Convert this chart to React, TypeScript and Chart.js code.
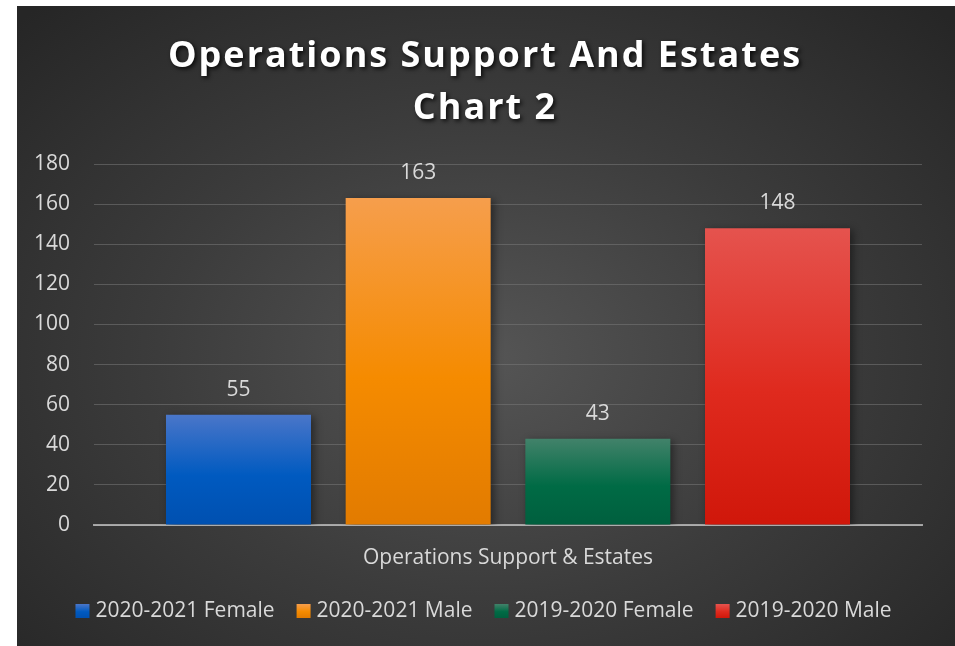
import React, { useEffect, useRef } from "react";
import { Chart, registerables } from "chart.js";

Chart.register(...registerables);

const categories = ["Operations Support & Estates"];
const seriesNames = ["2020-2021 Female", "2020-2021 Male", "2019-2020 Female", "2019-2020 Male"];
const seriesValues = [[55], [163], [43], [148]];
const seriesColors = [
  ["#4a76c9", "#005ac0", "#0050b0"],
  ["#f69e4c", "#f58b00", "#e27b00"],
  ["#42826a", "#006b45", "#005f3e"],
  ["#e5534e", "#df2a1e", "#d0170a"],
];
const titleLines = ["Operations Support And Estates", "Chart 2"];
const yMax = 180;
const yStep = 20;

const FONT = "'Open Sans', 'DejaVu Sans', sans-serif";
const TEXT = "#d9d9d9";

export default function App() {
  const ref = useRef<HTMLCanvasElement | null>(null);

  useEffect(() => {
    const canvas = ref.current;
    if (!canvas) return;

    const titlePlugin = {
      id: "customTitle",
      afterDraw(chart: any) {
        const ctx = chart.ctx;
        ctx.save();
        ctx.font = `bold 36px ${FONT}`;
        ctx.fillStyle = "#ffffff";
        ctx.textAlign = "center";
        ctx.textBaseline = "middle";
        (ctx as any).letterSpacing = "2px";
        ctx.shadowColor = "rgba(0,0,0,0.8)";
        ctx.shadowBlur = 4;
        ctx.shadowOffsetX = 2;
        ctx.shadowOffsetY = 2;
        const cx = chart.width / 2 - 1;
        ctx.fillText(titleLines[0], cx, 51);
        ctx.fillText(titleLines[1], cx, 103);
        ctx.restore();
      },
    };

    const legendPlugin = {
      id: "customLegend",
      afterDraw(chart: any) {
        const ctx = chart.ctx;
        ctx.save();
        ctx.font = `21px ${FONT}`;
        ctx.textBaseline = "middle";
        ctx.textAlign = "left";
        const box = 14;
        const gapBoxText = 6;
        const gapItems = 22;
        const widths = seriesNames.map((n) => box + gapBoxText + ctx.measureText(n).width);
        const total = widths.reduce((a, b) => a + b, 0) + gapItems * (widths.length - 1);
        let x = chart.width / 2 - 2.5 - total / 2;
        const y = 604;
        seriesNames.forEach((n, i) => {
          const g = ctx.createLinearGradient(0, y - box / 2 + 1, 0, y + box / 2 + 1);
          g.addColorStop(0, seriesColors[i][0]);
          g.addColorStop(0.55, seriesColors[i][1]);
          g.addColorStop(1, seriesColors[i][2]);
          ctx.fillStyle = g;
          ctx.fillRect(x, y - box / 2 + 1, box, box);
          ctx.fillStyle = TEXT;
          ctx.fillText(n, x + box + gapBoxText, y + 1);
          x += widths[i] + gapItems;
        });
        ctx.restore();
      },
    };

    const shadowPlugin = {
      id: "barShadow",
      beforeDatasetsDraw(chart: any) {
        const ctx = chart.ctx;
        ctx.save();
        ctx.shadowColor = "rgba(0,0,0,0.45)";
        ctx.shadowBlur = 8;
        ctx.shadowOffsetX = 3;
        ctx.shadowOffsetY = 2;
      },
      afterDatasetsDraw(chart: any) {
        chart.ctx.restore();
      },
    };

    const valueLabels = {
      id: "valueLabels",
      afterDatasetsDraw(chart: any) {
        const ctx = chart.ctx;
        ctx.save();
        ctx.font = `21px ${FONT}`;
        ctx.fillStyle = TEXT;
        ctx.textAlign = "center";
        ctx.textBaseline = "middle";
        chart.data.datasets.forEach((ds: any, i: number) => {
          const meta = chart.getDatasetMeta(i);
          meta.data.forEach((bar: any, j: number) => {
            ctx.fillText(String(ds.data[j]), bar.x, bar.y - 25);
          });
        });
        ctx.restore();
      },
    };

    const chart = new Chart(canvas, {
      type: "bar",
      data: {
        labels: categories,
        datasets: seriesNames.map((name, i) => ({
          label: name,
          data: seriesValues[i],
          backgroundColor: (c: any) => {
            const ch = c.chart;
            const cols = seriesColors[i];
            if (!ch.chartArea || !ch.scales.y) return cols[1];
            const v = c.raw ?? seriesValues[i][0];
            const top = ch.scales.y.getPixelForValue(v);
            const bottom = ch.scales.y.getPixelForValue(0);
            if (!isFinite(top) || !isFinite(bottom) || top === bottom) return cols[1];
            const g = ch.ctx.createLinearGradient(0, top, 0, bottom);
            g.addColorStop(0, cols[0]);
            g.addColorStop(0.55, cols[1]);
            g.addColorStop(1, cols[2]);
            return g;
          },
          borderWidth: 0,
          categoryPercentage: 0.868,
          barPercentage: 0.807,
        })),
      },
      options: {
        responsive: true,
        maintainAspectRatio: false,
        animation: false,
        layout: { padding: { left: 17, right: 33, top: 158, bottom: 61 } },
        scales: {
          x: {
            z: 1,
            grid: { display: false, drawTicks: false },
            border: { display: true, color: "rgba(200,200,200,0.75)", width: 2 },
            ticks: { color: TEXT, font: { family: FONT, size: 21 }, padding: 20 },
            afterFit: (s: any) => {
              s.height = 60;
            },
          },
          y: {
            min: 0,
            max: yMax,
            ticks: { stepSize: yStep, color: TEXT, font: { family: FONT, size: 21 }, padding: 24 },
            grid: { color: "rgba(120,120,120,0.55)", lineWidth: 1, drawTicks: false },
            border: { display: false },
            afterFit: (s: any) => {
              s.width = 60;
            },
          },
        },
        plugins: {
          title: { display: false },
          tooltip: { enabled: false },
          legend: { display: false },
        },
      },
      plugins: [shadowPlugin, valueLabels, titlePlugin, legendPlugin],
    } as any);

    return () => chart.destroy();
  }, []);

  return (
    <div
      style={{
        position: "absolute",
        left: 17,
        top: 6,
        width: 938,
        height: 640,
        background: "radial-gradient(ellipse 70% 75% at 50% 55%, #555555 0%, #3c3c3c 50%, #262626 100%)",
      }}
    >
      <canvas ref={ref} />
    </div>
  );
}
